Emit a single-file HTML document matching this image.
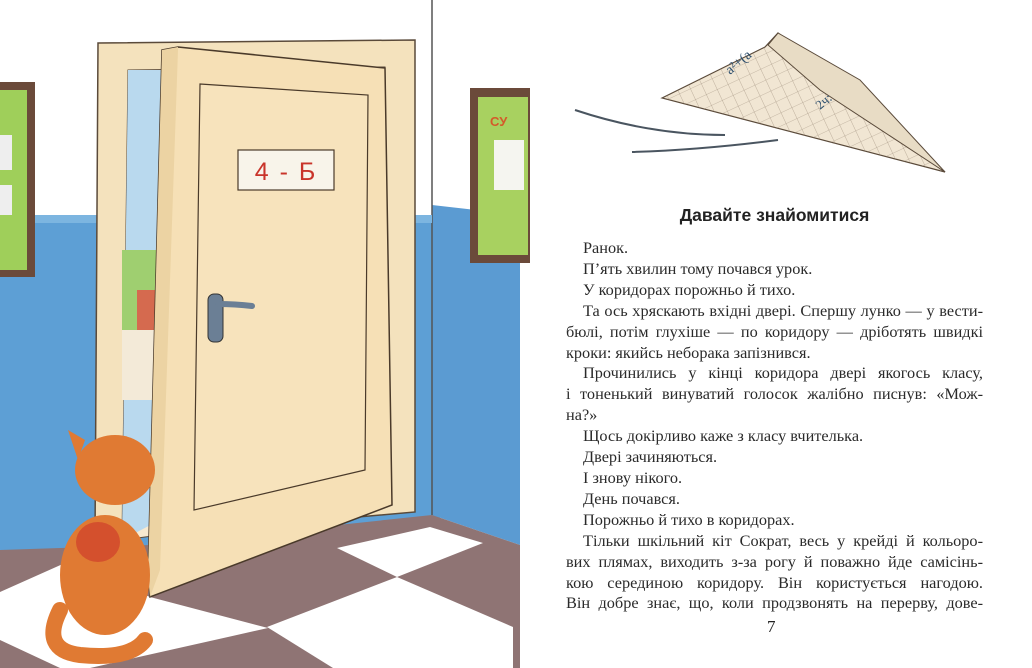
<!DOCTYPE html>
<html><head><meta charset="utf-8">
<style>
body{margin:0;width:1032px;height:668px;overflow:hidden;background:#fff;position:relative;font-family:"Liberation Serif",serif}
svg{position:absolute;left:0;top:0}
.t{position:absolute;left:566px;width:417px;font-size:16.3px;color:#2a2a2a;line-height:20.9px;top:238px}
.t div{white-space:nowrap}
.t .j{text-align:justify;text-align-last:justify;white-space:normal}
.i{padding-left:17px}
h1{position:absolute;left:566px;width:417px;top:205px;margin:0;text-align:center;font:bold 17.5px "Liberation Sans",sans-serif;color:#222}
.pg{position:absolute;left:767px;top:617px;font-size:17px;color:#222}
</style></head><body>
<svg width="1032" height="668" viewBox="0 0 1032 668">
<defs>
<pattern id="g" width="12" height="12" patternUnits="userSpaceOnUse" patternTransform="rotate(-25)">
<path d="M0,0 H12 M0,0 V12" stroke="#9a8a78" stroke-width="0.6" fill="none"/>
</pattern>
</defs>
<rect x="0" y="0" width="520" height="668" fill="#fff"/>
<rect x="0" y="215" width="440" height="340" fill="#5d9fd5"/>
<polygon points="432,205 520,215 520,545 432,515" fill="#5b9bd2"/>
<line x1="432" y1="0" x2="432" y2="515" stroke="#555" stroke-width="1.5"/>
<rect x="0" y="215" width="432" height="8" fill="#7cb5e0"/>
<polygon points="0,550 150,545 432,515 520,545 520,668 0,668" fill="#8f7474"/>
<polygon points="0,592 65,563 150,597 268,628 90,668 0,668" fill="#fff"/>
<polygon points="0,640 60,668 0,668" fill="#8f7474"/>
<polygon points="267,627 397,577 513,627 513,668 333,668" fill="#fff"/>
<polygon points="337,548 430,527 483,543 397,577" fill="#fff"/>
<rect x="-10" y="82" width="45" height="195" fill="#6b4a3a"/>
<rect x="-10" y="90" width="37" height="180" fill="#9fcf5a"/>
<rect x="0" y="135" width="12" height="35" fill="#eee"/>
<rect x="0" y="185" width="12" height="30" fill="#eee"/>
<rect x="470" y="88" width="60" height="175" fill="#6b4a3a"/>
<rect x="478" y="97" width="50" height="158" fill="#a8d160"/>
<text x="490" y="126" font-family="Liberation Sans" font-weight="bold" font-size="13" fill="#d45a2a">СУ</text>
<rect x="494" y="140" width="30" height="50" fill="#f5f5f0"/>
<polygon points="98,43 415,40 415,512 95,540" fill="#f4e2bd" stroke="#5a4a3a" stroke-width="1.5"/>
<polygon points="128,70 385,67 388,505 122,540" fill="#f8ead0" stroke="#5a4a3a"/>
<polygon points="128,70 165,70 160,520 122,540" fill="#b9d9ee"/>
<rect x="122" y="250" width="40" height="90" fill="#9fcf70"/>
<rect x="122" y="330" width="40" height="70" fill="#f3ead8"/>
<rect x="137" y="290" width="20" height="40" fill="#d56a4f"/>
<polygon points="162,50 178,47 385,68 392,505 150,597 148,575" fill="#f6e0b6" stroke="#4a3a2a" stroke-width="1.5"/>
<polygon points="178,47 162,50 148,575 150,597 160,570 178,50" fill="#ecd3a3"/>
<polygon points="200,84 368,95 365,470 194,510" fill="#f7e3bc" stroke="#4a3a2a" stroke-width="1.2"/>
<rect x="238" y="150" width="96" height="40" fill="#f8f4ea" stroke="#4a3a2a" stroke-width="1.2"/>
<text x="286" y="180" text-anchor="middle" font-family="Liberation Sans" font-size="25" fill="#c9342a" letter-spacing="2">4 - Б</text>
<rect x="208" y="294" width="15" height="48" rx="6" fill="#6b7f95" stroke="#333"/>
<path d="M218,304 Q235,304 252,306" stroke="#6b7f95" stroke-width="6" stroke-linecap="round" fill="none"/>
<ellipse cx="105" cy="575" rx="45" ry="60" fill="#e07a33"/>
<ellipse cx="115" cy="470" rx="40" ry="35" fill="#e07a33"/>
<polygon points="68,430 85,440 78,460" fill="#e07a33"/>
<ellipse cx="98" cy="542" rx="22" ry="20" fill="#d4502d"/>
<path d="M60,610 Q40,650 80,655 Q130,660 145,640" stroke="#e07a33" stroke-width="16" fill="none" stroke-linecap="round"/>
<path d="M575,110 Q650,135 725,135" stroke="#4a5560" stroke-width="2" fill="none"/>
<path d="M632,152 Q700,150 778,140" stroke="#4a5560" stroke-width="2" fill="none"/>
<polygon points="662,98 765,47 778,33 945,172" fill="#f1e6d3" stroke="#5a4a3a" stroke-width="1.2"/>
<polygon points="662,98 765,47 778,33 945,172" fill="url(#g)"/>
<polygon points="768,45 778,33 860,80 945,172 820,90" fill="#e8dcc5" stroke="#5a4a3a"/>
<text x="730" y="75" font-size="14" fill="#2d4f6e" transform="rotate(-40 730 75)">a²+(a</text>
<text x="820" y="110" font-size="13" fill="#2d4f6e" transform="rotate(-40 820 110)">2ч:</text>
</svg>
<h1>Давайте знайомитися</h1>
<div class="t">
<div class="i">Ранок.</div>
<div class="i">П’ять хвилин тому почався урок.</div>
<div class="i">У коридорах порожньо й тихо.</div>
<div class="i j">Та ось хряскають вхідні двері. Спершу лунко — у вести-</div>
<div class="j">бюлі, потім глухіше — по коридору — дріботять швидкі</div>
<div>кроки: якийсь неборака запізнився.</div>
<div class="i j">Прочинились у кінці коридора двері якогось класу,</div>
<div class="j">і тоненький винуватий голосок жалібно писнув: «Мож-</div>
<div>на?»</div>
<div class="i">Щось докірливо каже з класу вчителька.</div>
<div class="i">Двері зачиняються.</div>
<div class="i">І знову нікого.</div>
<div class="i">День почався.</div>
<div class="i">Порожньо й тихо в коридорах.</div>
<div class="i j">Тільки шкільний кіт Сократ, весь у крейді й кольоро-</div>
<div class="j">вих плямах, виходить з-за рогу й поважно йде самісінь-</div>
<div class="j">кою серединою коридору. Він користується нагодою.</div>
<div class="j">Він добре знає, що, коли продзвонять на перерву, дове-</div>
</div>
<div class="pg">7</div>
</body></html>
